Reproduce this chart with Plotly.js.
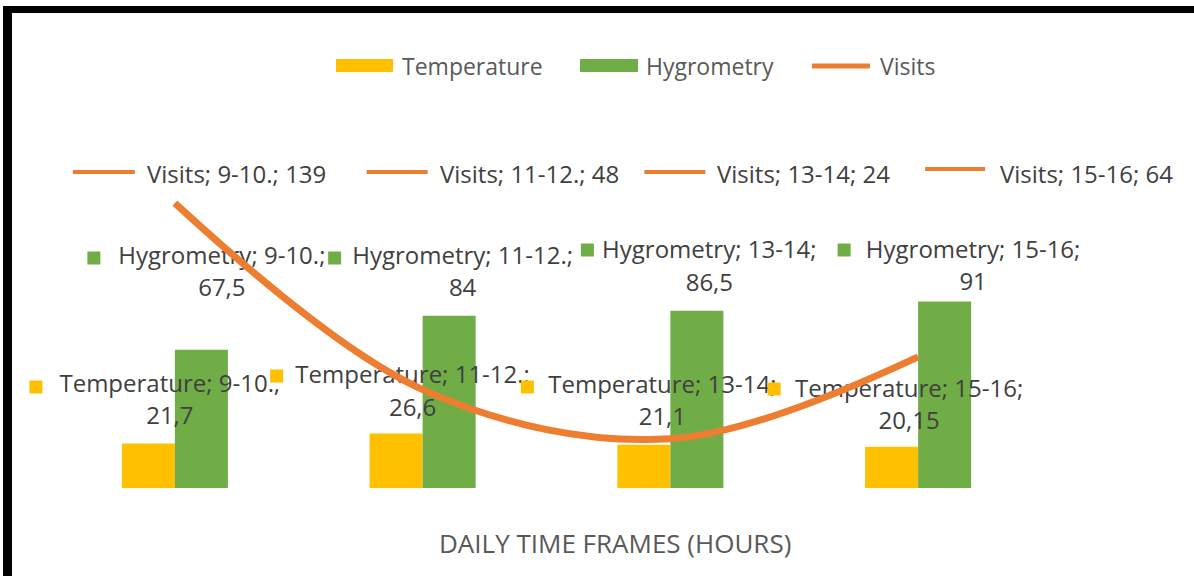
<!DOCTYPE html>
<html><head><meta charset="utf-8">
<script src="https://cdn.plot.ly/plotly-3.0.1.min.js"></script>
<style>html,body{margin:0;padding:0;background:#fff;} #chart{width:1194px;height:576px;}</style>
</head><body><div id="chart"></div>
<script>
// ---- data ----
const categories = ['9-10.', '11-12.', '13-14', '15-16'];
const temperature = [21.7, 26.6, 21.1, 20.15];
const hygrometry = [67.5, 84, 86.5, 91];
const visits = [139, 48, 24, 64];
const seriesNames = ['Temperature', 'Hygrometry', 'Visits'];
const axisTitle = 'DAILY TIME FRAMES (HOURS)';

// ---- style / layout constants ----
const COL = {temp: '#FFC000', hyg: '#70AD47', vis: '#ED7D31'};
const FONT = 'Open Sans, Lato, sans-serif';
const LBL = {family: FONT, size: 24, color: '#404040'};
const LEG = {family: FONT, size: 23, color: '#595959'};
const W = 1194, H = 576, L = 51, R = 1042, T = 100, B = 488;
const pw = R - L, ph = B - T, band = pw / categories.length;
const yScale = 2.05, yMax = ph / yScale;
const xp = px => (px - L) / pw;           // pixel -> paper x
const yp = py => (B - py) / ph;           // pixel -> paper y
const yd = py => (B - py) / yScale;       // pixel -> data y
const idx = categories.map((c, i) => i);
const fmt = v => String(v).replace('.', ',');
const catPx = i => L + (i + 0.5) * band;  // category centre in pixels

// label placement (pixel offsets from category centre / pixel rows)
const visLineOff = [[-102, -40], [-56, 5], [-26, 35], [7, 67]];
const visLineY = [172, 172, 172, 169];
const visTextOff = [-29, 16, 46, 81];
const visTextY = 173;
const hygTextOff = [47, 40, 39, 55];
const hygY1 = [258, 258, 252, 252], hygY2 = [290, 290, 285, 284];
const hygSqOff = [-81, -88, -83, -74], hygSqY = [258, 258, 250, 250];
const tmpTextOff = [-5, -10, -8, -9];
const tmpY1 = [386, 377, 387, 391], tmpY2 = [418, 410, 419, 423];
const tmpSqOff = [-139, -146, -143, -144], tmpSqY = [387, 376, 387, 389];

const ox = (i, off) => i + off / band;

function textTrace(xs, ys, texts) {
  return {type: 'scatter', mode: 'text', x: xs, y: ys, text: texts,
    textposition: 'middle center', textfont: LBL, hoverinfo: 'skip',
    showlegend: false, cliponaxis: false};
}

const traces = [
  {type: 'bar', name: seriesNames[0], x: idx, y: temperature, marker: {color: COL.temp},
   customdata: categories, hovertemplate: '%{customdata}: %{y}<extra>Temperature</extra>'},
  {type: 'bar', name: seriesNames[1], x: idx, y: hygrometry, marker: {color: COL.hyg},
   customdata: categories, hovertemplate: '%{customdata}: %{y}<extra>Hygrometry</extra>'},
  textTrace(idx.map(i => ox(i, hygTextOff[i])), hygY1.map(yd),
    categories.map(c => seriesNames[1] + '; ' + c + ';')),
  textTrace(idx.map(i => ox(i, hygTextOff[i])), hygY2.map(yd), hygrometry.map(fmt)),
  textTrace(idx.map(i => ox(i, tmpTextOff[i])), tmpY1.map(yd),
    categories.map(c => seriesNames[0] + '; ' + c + ';')),
  textTrace(idx.map(i => ox(i, tmpTextOff[i])), tmpY2.map(yd), temperature.map(fmt)),
  {type: 'scatter', mode: 'lines', name: seriesNames[2], x: idx, y: visits,
   line: {color: COL.vis, width: 7, shape: 'spline', smoothing: 1},
   customdata: categories, hovertemplate: '%{customdata}: %{y}<extra>Visits</extra>'}
];

const shapes = [];
const annotations = [];
// frame
shapes.push({type: 'rect', xref: 'paper', yref: 'paper', x0: xp(3), x1: xp(12), y0: yp(6), y1: yp(590),
  fillcolor: '#000', line: {width: 0}});
shapes.push({type: 'rect', xref: 'paper', yref: 'paper', x0: xp(3), x1: xp(1200), y0: yp(6), y1: yp(13),
  fillcolor: '#000', line: {width: 0}});
// custom legend
shapes.push({type: 'rect', xref: 'paper', yref: 'paper', x0: xp(336), x1: xp(393), y0: yp(59), y1: yp(72),
  fillcolor: COL.temp, line: {width: 0}});
shapes.push({type: 'rect', xref: 'paper', yref: 'paper', x0: xp(580), x1: xp(638), y0: yp(59), y1: yp(72),
  fillcolor: COL.hyg, line: {width: 0}});
shapes.push({type: 'line', xref: 'paper', yref: 'paper', x0: xp(812), x1: xp(870), y0: yp(66), y1: yp(66),
  line: {color: COL.vis, width: 5}});
[[401, 0], [645, 1], [879, 2]].forEach(([px, k]) => {
  annotations.push({xref: 'paper', yref: 'paper', x: xp(px), y: yp(66), xanchor: 'left', yanchor: 'middle',
    text: seriesNames[k], showarrow: false, font: LEG, borderpad: 0});
});
// legend-key squares of bar data labels (paper refs so they are not clipped)
function keySquare(i, off, py, color) {
  const cx = catPx(i) + off;
  shapes.push({type: 'rect', xref: 'paper', yref: 'paper',
    x0: xp(cx - 6.5), x1: xp(cx + 6.5), y0: yp(py - 6.5), y1: yp(py + 6.5),
    fillcolor: color, line: {width: 0}});
}
idx.forEach(i => {
  keySquare(i, hygSqOff[i], hygSqY[i], COL.hyg);
  keySquare(i, tmpSqOff[i], tmpSqY[i], COL.temp);
});
// visits data labels (key line + text)
idx.forEach(i => {
  shapes.push({type: 'line', xref: 'paper', yref: 'paper',
    x0: xp(catPx(i) + visLineOff[i][0]), x1: xp(catPx(i) + visLineOff[i][1]),
    y0: yp(visLineY[i]), y1: yp(visLineY[i]), line: {color: COL.vis, width: 4}});
  annotations.push({xref: 'x', yref: 'y', x: ox(i, visTextOff[i]), y: yd(visTextY), xanchor: 'left',
    yanchor: 'middle', showarrow: false, font: LBL, borderpad: 0,
    text: seriesNames[2] + '; ' + categories[i] + '; ' + fmt(visits[i])});
});
// axis title
annotations.push({xref: 'paper', yref: 'paper', x: xp(615), y: yp(543), xanchor: 'center', yanchor: 'middle',
  text: axisTitle, showarrow: false, font: {family: FONT, size: 26, color: '#595959'}});

const layout = {
  width: W, height: H,
  margin: {l: L, r: W - R, t: T, b: H - B, pad: 0},
  paper_bgcolor: '#fff', plot_bgcolor: '#fff',
  barmode: 'group', bargap: 0.572, bargroupgap: 0,
  showlegend: false,
  xaxis: {type: 'linear', range: [-0.5, categories.length - 0.5], showgrid: false, zeroline: false,
    showline: false, showticklabels: false, ticks: '', fixedrange: true},
  yaxis: {range: [0, yMax], showgrid: false, zeroline: false, showline: false,
    showticklabels: false, ticks: '', fixedrange: true},
  shapes: shapes, annotations: annotations,
  font: {family: FONT}
};
Plotly.newPlot('chart', traces, layout, {displayModeBar: false});
</script></body></html>
